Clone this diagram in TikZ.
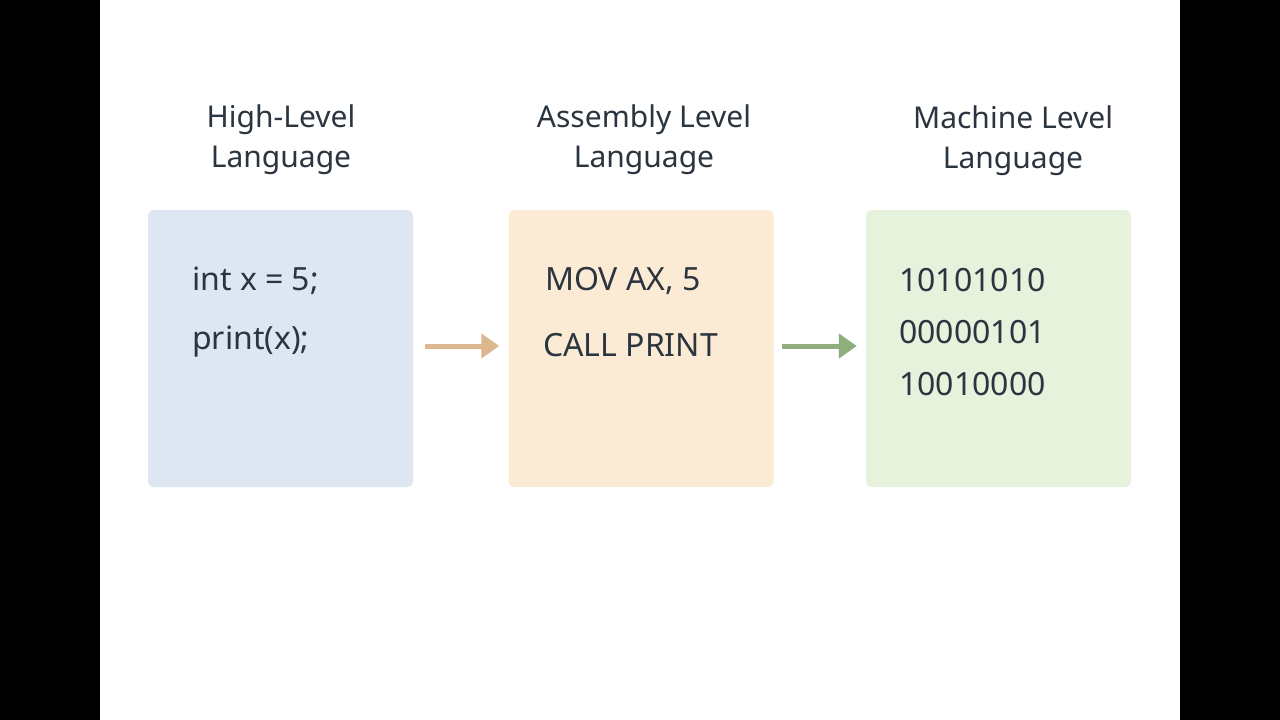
\documentclass[tikz,border=0pt]{standalone}
\usepackage{fontspec}
\setmainfont{Noto Sans}
\usetikzlibrary{positioning, arrows.meta}
\definecolor{ink}{HTML}{2B3540}
\definecolor{hlfill}{HTML}{DEE7F1}
\definecolor{asmfill}{HTML}{FCEBD4}
\definecolor{mcfill}{HTML}{E7F2DD}
\definecolor{asmarrow}{HTML}{DDB88E}
\definecolor{mcarrow}{HTML}{8FAE7C}

\begin{document}
\begin{tikzpicture}[x=1pt, y=-1pt,
  langbox/.style={rounded corners=6pt, minimum width=265pt, minimum height=277pt, inner sep=0pt},
  title/.style={align=center, text=ink, font=\fontsize{30}{40}\selectfont},
  code/.style={anchor=west, text=ink, inner sep=0pt, font=\fontsize{32}{40}\selectfont},
  flow/.style={line width=5pt, -{Triangle[length=18pt, width=24pt]}}]
\fill[black] (0,0) rectangle (1280,720);
\fill[white] (100,0) rectangle (1180,720);
\useasboundingbox (0,0) rectangle (1280,720);

\node[langbox, fill=hlfill] (hl) at (280.5,348.5) {};
\node[langbox, fill=asmfill] (asm) at (641,348.5) {};
\node[langbox, fill=mcfill] (mc) at (998.5,348.5) {};

\node[title] (hl-title) at (281,140) {High-Level\\Language};
\node[title] (asm-title) at (644,140) {Assembly Level\\Language};
\node[title] (mc-title) at (1013,141) {Machine Level\\Language};

\node[code] (hl1) at (192,281) {int x = 5;};
\node[code] (hl2) at (192,342) {print(x);};
\node[code] (asm1) at (545,281) {MOV AX, 5};
\node[code] (asm2) at (543,345) {CALL PRINT};
\node[code] (mc1) at (899,280) {10101010};
\node[code] (mc2) at (899,332) {00000101};
\node[code] (mc3) at (899,384) {10010000};

\draw[flow, asmarrow, shorten <=12pt, shorten >=9pt] (hl.east |- 0,346) -- (asm.west |- 0,346);
\draw[flow, mcarrow, shorten <=8pt, shorten >=9pt] (asm.east |- 0,346) -- (mc.west |- 0,346);
\end{tikzpicture}
\end{document}
